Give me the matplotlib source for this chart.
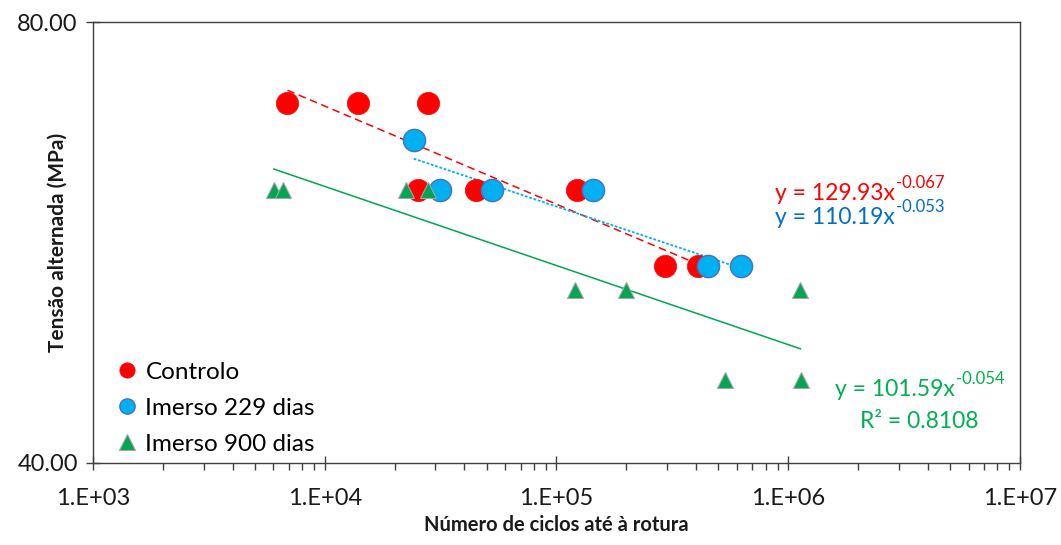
# -*- coding: utf-8 -*-
# S-N curves: controlo vs imerso
import numpy as np
import matplotlib.pyplot as plt
from matplotlib.ticker import FixedLocator, FixedFormatter, LogLocator, NullLocator, NullFormatter

plt.rcParams['font.family'] = ['Lato', 'DejaVu Sans']

# data
ctrl_n = [6900, 13900, 28000, 25200, 44800, 122000, 295000, 410000]
ctrl_s = [70.4, 70.4, 70.4, 61.4, 61.4, 61.4, 54.5, 54.5]
im229_n = [24200, 31300, 52500, 144000, 451000, 627000]
im229_s = [66.5, 61.4, 61.4, 61.4, 54.5, 54.5]
im900_n = [6030, 6590, 22500, 27800, 120000, 200000, 534000, 1127000, 1130000]
im900_s = [61.4, 61.4, 61.4, 61.4, 52.5, 52.5, 45.6, 52.5, 45.6]

# trendline coefficients (power law, y = a*x^b)
fit_ctrl = (129.93, -0.067)
fit_229 = (110.19, -0.053)
fit_900 = (101.59, -0.054)
r2_900 = 0.8108

xticks = [1e3, 1e4, 1e5, 1e6, 1e7]
xlabels = ["1.E+03", "1.E+04", "1.E+05", "1.E+06", "1.E+07"]
yticks = [40, 80]
ylabels = ["40.00", "80.00"]

red = "#FF0000"
blue = "#00B0F0"
blue_txt = "#0070C0"
green = "#00A651"
green_txt = "#00B050"
axcol = "#404040"

fig = plt.figure(figsize=(10.61, 5.45), dpi=100)
ax = fig.add_axes([0.0877, 0.1505, 0.8736, 0.8091])


def trend(n, fit):
    x = np.geomspace(min(n), max(n), 50)
    return x, fit[0] * x ** fit[1]


x, y = trend(ctrl_n, fit_ctrl)
ax.plot(x, y, color=red, ls=(0, (5, 3)), lw=1.1, zorder=2)
x, y = trend(im229_n, fit_229)
ax.plot(x, y, color=blue, ls=(0, (1.5, 1)), lw=1.3, zorder=2)
x, y = trend(im900_n, fit_900)
ax.plot(x, y, color=green, ls="-", lw=1.1, zorder=2)

ax.plot(ctrl_n, ctrl_s, "o", ms=16, mfc=red, mec=red, mew=0.5, ls="none",
        label="Controlo", zorder=3)
ax.plot(im229_n, im229_s, "o", ms=16, mfc=blue, mec="#4472C4", mew=1, ls="none",
        label="Imerso 229 dias", zorder=4)
ax.plot(im900_n, im900_s, "^", ms=11.5, mfc=green, mec="#A5A5A5", mew=0.8, ls="none",
        label="Imerso 900 dias", zorder=5)

ax.set_xscale("log")
ax.set_yscale("log", base=2)
ax.set_xlim(1e3, 1e7)
ax.set_ylim(40, 80)

ax.xaxis.set_major_locator(FixedLocator(xticks))
ax.xaxis.set_major_formatter(FixedFormatter(xlabels))
ax.xaxis.set_minor_locator(LogLocator(base=10, subs=np.arange(2, 10)))
ax.xaxis.set_minor_formatter(NullFormatter())
ax.yaxis.set_major_locator(FixedLocator(yticks))
ax.yaxis.set_major_formatter(FixedFormatter(ylabels))
ax.yaxis.set_minor_locator(NullLocator())

ax.tick_params(axis="both", which="major", direction="inout", length=10, width=1,
               color=axcol, labelsize=17, labelcolor="#1a1a1a")
ax.tick_params(axis="x", which="minor", direction="out", length=5, width=1, color=axcol)
ax.tick_params(axis="x", which="major", pad=13)
ax.tick_params(axis="y", which="major", pad=6)
for s in ax.spines.values():
    s.set_color(axcol)
    s.set_linewidth(1)

ax.set_xlabel("Número de ciclos até à rotura", fontsize=14.5, fontweight="bold",
              color="#1a1a1a")
ax.set_ylabel("Tensão alternada (MPa)", fontsize=15, fontweight="bold",
              color="#1a1a1a")
ax.xaxis.set_label_coords(0.5, -0.118)
ax.yaxis.set_label_coords(-0.027, 0.5)


def power_label(px, py, fit, color):
    # base text plus a small raised exponent, Excel-style hyphen minus
    t = fig.text(px / 1061, 1 - py / 545, "y = %.2fx" % fit[0], color=color,
                 fontsize=16.5, va="center", ha="left")
    fig.canvas.draw()
    bb = t.get_window_extent()
    fig.text(bb.x1 / 1061 + 0.001, (bb.y1 - 8) / 545, "%.3f" % fit[1], color=color,
             fontsize=12, va="bottom", ha="left")


power_label(775, 193, fit_ctrl, red)
power_label(775, 218, fit_229, blue_txt)
power_label(835, 389, fit_900, green_txt)
fig.text(860 / 1061, 1 - 421 / 545, "R² = %.4f" % r2_900, color=green_txt,
         fontsize=16.5, va="center", ha="left")

leg = ax.legend(loc="lower left", bbox_to_anchor=(0.008, -0.02), frameon=False,
                fontsize=17.5, handlelength=0.8, handletextpad=0.35,
                labelspacing=0.62, borderaxespad=0.3)
for h in leg.legend_handles:
    h.set_markersize(11)

fig.savefig("out.png", dpi=100)
